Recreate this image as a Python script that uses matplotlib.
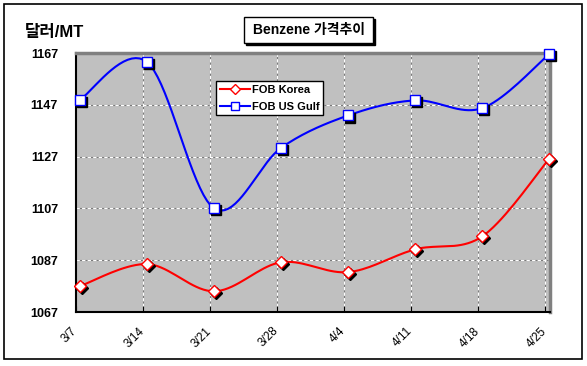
import numpy as np
import matplotlib
matplotlib.use("Agg")
import matplotlib.pyplot as plt
import matplotlib.transforms as mtrans
from matplotlib.patches import Rectangle
from matplotlib.lines import Line2D

plt.rcParams['font.family'] = ['Liberation Sans', 'Noto Sans CJK KR', 'DejaVu Sans']

dates = ["3/7", "3/14", "3/21", "3/28", "4/4", "4/11", "4/18", "4/25"]
korea = [1077, 1085.5, 1075, 1086.2, 1082.4, 1091.2, 1096.2, 1126.2]
usgulf = [1149, 1163.5, 1107, 1130.4, 1142.9, 1148.7, 1145.7, 1166.6]
yticks = [1067, 1087, 1107, 1127, 1147, 1167]

def smooth(x, y, n=20):
    x = np.asarray(x, float); y = np.asarray(y, float)
    px = np.concatenate([[x[0]], x, [x[-1]]])
    py = np.concatenate([[y[0]], y, [y[-1]]])
    xs, ys = [], []
    t = np.linspace(0, 1, n)
    for i in range(1, len(px) - 2):
        p0, p1, p2, p3 = [np.array([px[j], py[j]]) for j in (i-1, i, i+1, i+2)]
        c1 = p1 + (p2 - p0) / 6
        c2 = p2 - (p3 - p1) / 6
        b = ((1-t)**3)[:, None]*p1 + (3*(1-t)**2*t)[:, None]*c1 + (3*(1-t)*t**2)[:, None]*c2 + (t**3)[:, None]*p2
        xs.extend(b[:, 0]); ys.extend(b[:, 1])
    return np.array(xs), np.array(ys)

W, H = 587, 366
def fx(px): return px / W
def fy(py): return 1 - py / H

fig = plt.figure(figsize=(5.87, 3.66), dpi=100)
# outer border
fig.patches.append(Rectangle((fx(4), fy(359)), 578/W, 355/H, transform=fig.transFigure,
                             fill=False, edgecolor='black', lw=1.2))

ax = fig.add_axes([fx(76), fy(312), (550-76)/W, (312-53)/H])
ax.set_facecolor('#C0C0C0')
off = 0.06
xs = np.arange(len(dates))
ax.set_xlim(0, 7.07)
ax.set_ylim(1067, 1167)
ax.set_xticks(xs)
ax.set_xticklabels([])
lab_tr = ax.get_xaxis_transform() + mtrans.ScaledTranslation(-5/100, -13/100, fig.dpi_scale_trans)
for i, d in zip(xs, dates):
    ax.text(i, 0, d, transform=lab_tr, rotation=45, ha='right', va='top',
            rotation_mode='anchor', fontsize=8.5)
ax.set_yticks(yticks)
ax.set_yticklabels([str(v) for v in yticks], fontsize=9, fontweight='bold')
ax.tick_params(axis='y', length=0, pad=13)
ax.tick_params(axis='x', length=4, direction='in')
for s in ('top', 'right'):
    ax.spines[s].set_color('#808080'); ax.spines[s].set_linewidth(2.5)
for s in ('left', 'bottom'):
    ax.spines[s].set_color('black'); ax.spines[s].set_linewidth(1.5)

for v in yticks[1:-1]:
    ax.axhline(v, color='#7a7a7a', lw=0.8, zorder=1)
    ax.axhline(v, color='white', lw=0.8, ls=(0, (3, 2)), zorder=1.1)
for i in xs[1:]:
    ax.axvline(i, color='#7a7a7a', lw=0.8, zorder=1)
    ax.axvline(i, color='white', lw=0.8, ls=(0, (3, 2)), zorder=1.1)

shadow = mtrans.offset_copy(ax.transData, fig=fig, x=1.5, y=-1.5, units='points')
dx = xs + off
for vals, col, mk in ((korea, 'red', 'D'), (usgulf, 'blue', 's')):
    sx, sy = smooth(dx, vals)
    ax.plot(sx, sy, color=col, lw=1.5, zorder=3, clip_on=False)
    ms = 6 if mk == 'D' else 6.5
    ax.plot(dx, vals, ls='none', marker=mk, ms=ms, color='black', zorder=3.5, transform=shadow, clip_on=False)
    ax.plot(dx, vals, ls='none', marker=mk, ms=ms, mfc='white', mec=col, mew=1, zorder=4, clip_on=False)

# legend
h1 = Line2D([], [], color='red', lw=1.5, marker='D', ms=5.5, mfc='white', mec='red')
h2 = Line2D([], [], color='blue', lw=1.5, marker='s', ms=6, mfc='white', mec='blue')
leg = fig.legend([h1, h2], ['FOB Korea', 'FOB US Gulf'], loc='upper left',
                 bbox_to_anchor=(fx(216), fy(81)), frameon=True, fancybox=False,
                 edgecolor='black', framealpha=1, prop={'size': 8, 'weight': 'bold'},
                 handlelength=2.7, handletextpad=0.15, borderpad=0.35, labelspacing=0.6,
                 borderaxespad=0)
leg.get_frame().set_linewidth(1)

# title box with shadow
fig.patches.append(Rectangle((fx(246), fy(45)), 129/W, 26/H, transform=fig.transFigure,
                             color='black', zorder=0))
fig.patches.append(Rectangle((fx(244), fy(43)), 129/W, 26/H, transform=fig.transFigure,
                             fc='white', ec='black', lw=1, zorder=1))
fig.text(fx(309), fy(30), 'Benzene 가격추이', ha='center', va='center', fontsize=10, fontweight='bold', zorder=2)
fig.text(fx(25), fy(33), '달러/MT', ha='left', va='center', fontsize=12, fontweight='bold')

fig.savefig('out.png', dpi=100)
